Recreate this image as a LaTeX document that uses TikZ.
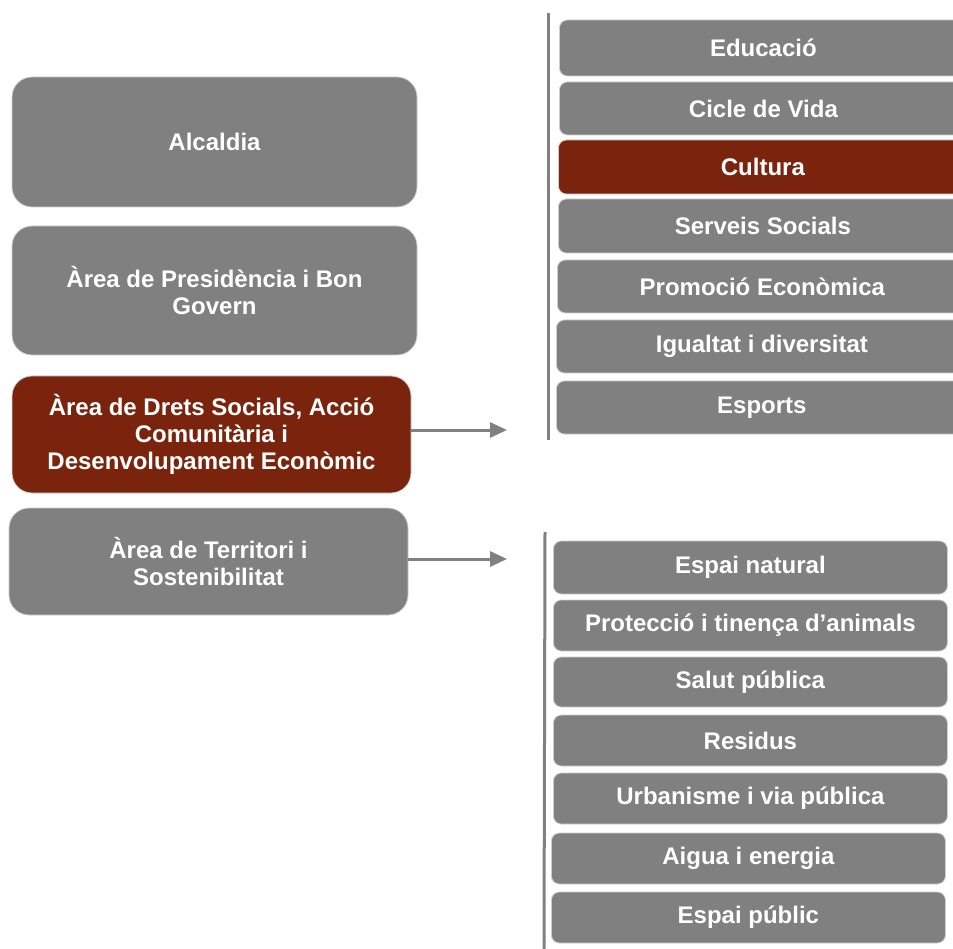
\documentclass[tikz,border=0pt]{standalone}
\usepackage{fontspec}
\setmainfont{Liberation Sans}
\usetikzlibrary{arrows.meta}
\definecolor{boxgray}{RGB}{128,128,128}
\definecolor{boxred}{RGB}{123,36,13}
\definecolor{rim}{RGB}{205,205,205}
\begin{document}
\begin{tikzpicture}[x=1pt,y=-1pt,
  base/.style={fill=boxgray, draw=rim, line width=0.8pt, text=white,
    font=\fontsize{24}{27}\selectfont\bfseries, align=center, inner sep=0pt},
  lbox/.style={base, rounded corners=20pt},
  rbox/.style={base, rounded corners=8pt, anchor=west},
  hot/.style={fill=boxred},
  arr/.style={draw=boxgray, line width=3pt, -{Triangle[length=17pt,width=15pt]}},
  vline/.style={draw=boxgray, line width=3pt}]
\useasboundingbox (0,0) rectangle (953,949);

% left column
\node[lbox, minimum width=405pt, minimum height=130pt] (alc) at (214.5,142) {Alcaldia};
\node[lbox, minimum width=405pt, minimum height=129pt] (pres) at (214.5,290.5) {Àrea de Presidència i Bon\\Govern};
\node[lbox, hot, minimum width=399pt, minimum height=117pt] (drets) at (211.5,434.5) {Àrea de Drets Socials, Acció\\Comunitària i\\Desenvolupament Econòmic};
\node[lbox, minimum width=399pt, minimum height=107pt] (terr) at (208.5,561.5) {Àrea de Territori i\\Sostenibilitat};

% arrows
\coordinate (a1) at (507,430);
\coordinate (a2) at (507,559);
\draw[arr] (drets.east |- a1) -- (a1);
\draw[arr] (terr.east |- a2) -- (a2);

% vertical brackets
\coordinate (v1t) at (548,13);
\coordinate (v1b) at (548,440);
\coordinate (v2t) at (545,532);
\coordinate (v2b) at (544,949);
\draw[vline] (v1t) -- (v1b);
\draw[vline] (v2t) -- (v2b);

% right top group
\node[rbox, minimum width=408pt, minimum height=56pt] (edu) at (559,48) {Educació};
\node[rbox, minimum width=408pt, minimum height=53pt] (cicle) at (559,108.5) {Cicle de Vida};
\node[rbox, hot, minimum width=409pt, minimum height=54pt] (cult) at (558,167) {Cultura};
\node[rbox, minimum width=409pt, minimum height=54pt] (serv) at (558,226) {Serveis Socials};
\node[rbox, minimum width=410pt, minimum height=53pt] (prom) at (557,286.5) {Promoció Econòmica};
\node[rbox, minimum width=411pt, minimum height=53pt] (igual) at (556,346.5) {Igualtat i diversitat};
\node[rbox, minimum width=411pt, minimum height=53pt] (esp) at (556,407.5) {Esports};

% right bottom group
\node[rbox, minimum width=394pt, minimum height=53pt] (nat) at (553,567.5) {Espai natural};
\node[rbox, minimum width=394pt, minimum height=51pt] (prot) at (553,625.5) {Protecció i tinença d’animals};
\node[rbox, minimum width=394pt, minimum height=50pt] (salut) at (553,682) {Salut pública};
\node[rbox, minimum width=394pt, minimum height=51pt] (resid) at (553,740.5) {Residus};
\node[rbox, minimum width=394pt, minimum height=51pt] (urb) at (553,798.5) {Urbanisme i via pública};
\node[rbox, minimum width=394pt, minimum height=51pt] (aigua) at (551,858.5) {Aigua i energia};
\node[rbox, minimum width=394pt, minimum height=51pt] (pub) at (551,917.5) {Espai públic};
\end{tikzpicture}
\end{document}
